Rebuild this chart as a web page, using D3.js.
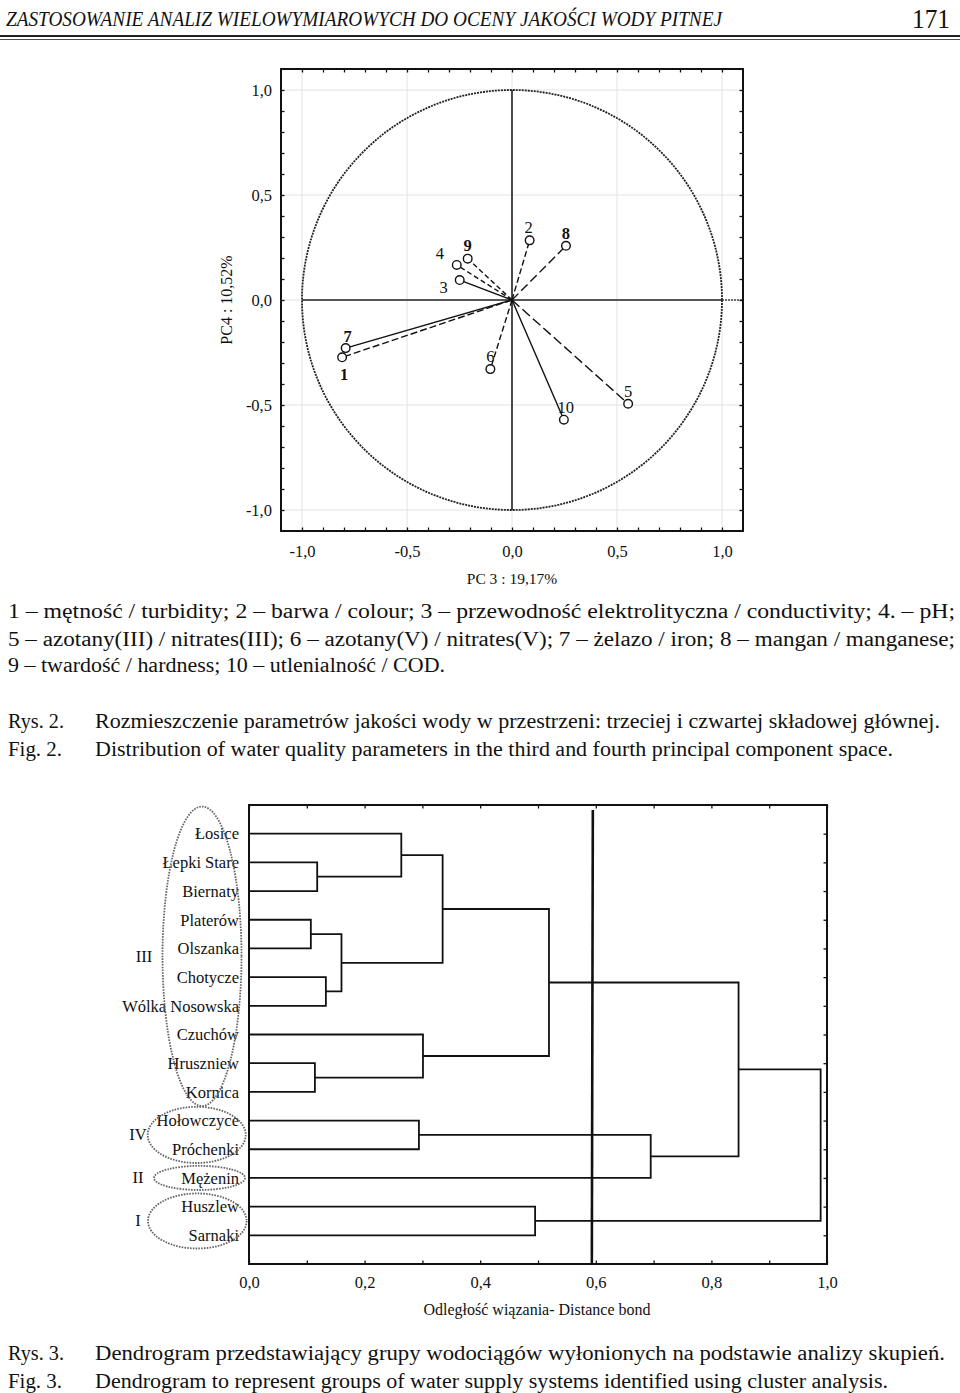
<!DOCTYPE html>
<html><head><meta charset="utf-8">
<script src="https://cdn.jsdelivr.net/npm/d3@7"></script>
<style>
html,body{margin:0;padding:0;background:#fff;}
svg{display:block;}
text{font-family:"Liberation Serif","Times New Roman",serif;fill:#111;}
</style></head>
<body>
<svg id="chart" width="960" height="1393"></svg>
<script>
// ---------------- DATA ----------------
const paramLabels = ["1","2","3","4","5","6","7","8","9","10"];
const pc3Values = [-0.809, 0.084, -0.249, -0.263, 0.553, -0.103, -0.792, 0.257, -0.211, 0.247];
const pc4Values = [-0.273, 0.284, 0.095, 0.167, -0.494, -0.329, -0.229, 0.258, 0.197, -0.570];
const pcaTickLabels = [-1.0, -0.5, 0.0, 0.5, 1.0];

const leaves = ["Łosice","Łepki Stare","Biernaty","Platerów","Olszanka","Chotycze","Wólka Nosowska",
  "Czuchów","Hruszniew","Kornica","Hołowczyce","Próchenki","Mężenin","Huszlew","Sarnaki"];
// linkage: node ids 0..14 are leaves, merge i creates node 15+i
const mergeLeft   = [1, 0, 3, 5, 17, 16, 8, 7, 20, 10, 24, 23, 13, 26];
const mergeRight  = [2, 15, 4, 6, 18, 19, 9, 21, 22, 11, 12, 25, 14, 27];
const mergeHeight = [0.118, 0.2635, 0.107, 0.133, 0.160, 0.335, 0.114, 0.301, 0.519, 0.294, 0.695, 0.847, 0.495, 0.989];
const cutDistance = 0.594;
const dendroTickLabels = [0.0, 0.2, 0.4, 0.6, 0.8, 1.0];
const groupNames = ["III","IV","II","I"];
const groupFirstLeaf = [0, 10, 12, 13];
const groupLastLeaf  = [9, 11, 12, 14];

// ---------------- STYLE ----------------
const lineDash = {"1":"7,3","2":"6,3","3":null,"4":"5,3","5":"10,4","6":"6,3","7":null,"8":"9,4","9":"5,3","10":null};
const labelOffset = {"1":[2,17],"2":[-1,-13],"3":[-16,7],"4":[-17,-11],"5":[0,-12],"6":[0,-13],"7":[2,-12],"8":[0,-12],"9":[0,-13],"10":[2,-12]};
const boldLabels = new Set(["1","7","8","9"]);
// ellipse shape per group: [cx, rx, extra ry in leaf steps, cy shift]
const groupShape = [[202, 39.5, 0.72, -6.5], [196.7, 49, 0.48, 0], [199.5, 45.5, 0.42, 0], [197.3, 49.3, 0.46, 0]];
const fmt = d => (Math.abs(d) < 1e-9 ? 0 : d).toFixed(1).replace(".", ",");

const svg = d3.select("#chart");

// ---------------- HEADER ----------------
svg.append("text").attr("x", 6).attr("y", 26).attr("font-size", 20).attr("font-style","italic")
  .attr("textLength", 716).attr("lengthAdjust","spacingAndGlyphs")
  .text("ZASTOSOWANIE ANALIZ WIELOWYMIAROWYCH DO OCENY JAKOŚCI WODY PITNEJ");
svg.append("text").attr("x", 950).attr("y", 28).attr("font-size", 27).attr("text-anchor","end")
  .attr("textLength", 38).attr("lengthAdjust","spacingAndGlyphs").text("171");
svg.append("line").attr("x1",0).attr("x2",960).attr("y1",36).attr("y2",36).attr("stroke","#222").attr("stroke-width",2);
svg.append("line").attr("x1",0).attr("x2",960).attr("y1",39.5).attr("y2",39.5).attr("stroke","#222").attr("stroke-width",0.8);

// ---------------- PCA PLOT ----------------
const pL = 281, pR = 743, pT = 69, pB = 531;
const px = d3.scaleLinear().domain([-1.1, 1.1]).range([pL, pR]);
const py = d3.scaleLinear().domain([-1.1, 1.1]).range([pB, pT]);
const minor = d3.range(-10, 11).map(i => i / 10);
const g1 = svg.append("g");

// grid
g1.append("g").selectAll("line").data(pcaTickLabels).join("line")
  .attr("x1", d => px(d)).attr("x2", d => px(d)).attr("y1", pT).attr("y2", pB)
  .attr("stroke", "#e2e2e2").attr("stroke-width", 1);
g1.append("g").selectAll("line").data(pcaTickLabels).join("line")
  .attr("y1", d => py(d)).attr("y2", d => py(d)).attr("x1", pL).attr("x2", pR)
  .attr("stroke", "#e2e2e2").attr("stroke-width", 1);

// unit circle
g1.append("ellipse").attr("cx", px(0)).attr("cy", py(0))
  .attr("rx", px(1) - px(0)).attr("ry", py(0) - py(1))
  .attr("fill", "none").attr("stroke", "#222").attr("stroke-width", 1.8).attr("stroke-dasharray", "2,1");

// axes through origin
g1.append("line").attr("x1", px(-1)).attr("x2", px(1)).attr("y1", py(0)).attr("y2", py(0)).attr("stroke", "#222").attr("stroke-width", 1.6);
g1.append("line").attr("x1", px(1)).attr("x2", pR).attr("y1", py(0)).attr("y2", py(0)).attr("stroke", "#444").attr("stroke-width", 1.4).attr("stroke-dasharray","2,1");
g1.append("line").attr("x1", px(0)).attr("x2", px(0)).attr("y1", py(1)).attr("y2", py(-1)).attr("stroke", "#222").attr("stroke-width", 1.6);

// ticks (inward) on four sides via d3 axes
const tk = 3.5;
g1.append("g").attr("transform", `translate(0,${pB})`).call(d3.axisBottom(px).tickValues(minor).tickSize(-tk).tickFormat(""));
g1.append("g").attr("transform", `translate(0,${pT})`).call(d3.axisTop(px).tickValues(minor).tickSize(-tk).tickFormat(""));
g1.append("g").attr("transform", `translate(${pL},0)`).call(d3.axisLeft(py).tickValues(minor).tickSize(-tk).tickFormat(""));
g1.append("g").attr("transform", `translate(${pR},0)`).call(d3.axisRight(py).tickValues(minor).tickSize(-tk).tickFormat(""));
g1.selectAll(".domain").remove();
g1.selectAll(".tick line").attr("stroke", "#111").attr("stroke-width", 1.3);

// tick labels
const xl = g1.append("g").attr("transform", `translate(0,${pB})`).call(d3.axisBottom(px).tickValues(pcaTickLabels).tickSize(0).tickPadding(14).tickFormat(fmt));
const yl = g1.append("g").attr("transform", `translate(${pL},0)`).call(d3.axisLeft(py).tickValues(pcaTickLabels).tickSize(0).tickPadding(9).tickFormat(fmt));
[xl, yl].forEach(a => { a.select(".domain").remove(); a.selectAll("text").attr("font-size", 16.5).attr("font-family", "Liberation Serif").attr("fill", "#111"); });

// frame
g1.append("rect").attr("x", pL).attr("y", pT).attr("width", pR - pL).attr("height", pB - pT)
  .attr("fill", "none").attr("stroke", "#111").attr("stroke-width", 2);

// axis titles
g1.append("text").attr("x", 512).attr("y", 584).attr("text-anchor", "middle").attr("font-size", 15.5).text("PC 3 : 19,17%");
g1.append("text").attr("transform", `translate(232,${py(0)}) rotate(-90)`).attr("text-anchor", "middle").attr("font-size", 16).text("PC4 : 10,52%");

// vectors
const pts = paramLabels.map((l, i) => ({ l, x: pc3Values[i], y: pc4Values[i] }));
g1.append("g").selectAll("line").data(pts).join("line")
  .attr("x1", px(0)).attr("y1", py(0)).attr("x2", d => px(d.x)).attr("y2", d => py(d.y))
  .attr("stroke", "#111").attr("stroke-width", 1.4)
  .attr("stroke-dasharray", d => lineDash[d.l]);
g1.append("g").selectAll("circle").data(pts).join("circle")
  .attr("cx", d => px(d.x)).attr("cy", d => py(d.y)).attr("r", 4.3)
  .attr("fill", "#fff").attr("stroke", "#111").attr("stroke-width", 1.4);
g1.append("g").selectAll("text").data(pts).join("text")
  .attr("x", d => px(d.x) + labelOffset[d.l][0]).attr("y", d => py(d.y) + labelOffset[d.l][1] + 5.5)
  .attr("text-anchor", "middle").attr("font-size", 16.5)
  .attr("font-weight", d => boldLabels.has(d.l) ? "bold" : "normal").text(d => d.l);

// ---------------- LEGEND & CAPTIONS ----------------
function textLine(x, y, str, w, size) {
  const t = svg.append("text").attr("x", x).attr("y", y).attr("font-size", size || 20).text(str);
  if (w) t.attr("textLength", w).attr("lengthAdjust", "spacingAndGlyphs");
  return t;
}
textLine(8, 618, "1 – mętność / turbidity; 2 – barwa / colour; 3 – przewodność elektrolityczna / conductivity; 4. – pH;", 947);
textLine(8, 646, "5 – azotany(III) / nitrates(III); 6 – azotany(V) / nitrates(V); 7 – żelazo / iron; 8 – mangan / manganese;", 947);
textLine(8, 672, "9 – twardość / hardness; 10 – utlenialność / COD.", 437);
textLine(8, 728, "Rys. 2.", 56);
textLine(95, 728, "Rozmieszczenie parametrów jakości wody w przestrzeni: trzeciej i czwartej składowej głównej.", 845);
textLine(8, 756, "Fig. 2.", 54);
textLine(95, 756, "Distribution of water quality parameters in the third and fourth principal component space.", 798);
textLine(8, 1360, "Rys. 3.", 56);
textLine(95, 1360, "Dendrogram przedstawiający grupy wodociągów wyłonionych na podstawie analizy skupień.", 850);
textLine(8, 1388, "Fig. 3.", 54);
textLine(95, 1388, "Dendrogram to represent groups of water supply systems identified using cluster analysis.", 793);

// ---------------- DENDROGRAM ----------------
const dL = 249, dR = 827, dT = 805, dB = 1264;
const dx = d3.scaleLinear().domain([0, 1]).range([dL, dR]);
const dy = d3.scalePoint().domain(leaves).range([dT, dB]).padding(1);
const g2 = svg.append("g");

// node positions
const nodes = leaves.map(n => ({ x: 0, y: dy(n) }));
mergeHeight.forEach((h, i) => {
  const a = nodes[mergeLeft[i]], b = nodes[mergeRight[i]];
  nodes.push({ x: h, y: (a.y + b.y) / 2, a, b });
});
const links = nodes.filter(n => n.a);
g2.append("g").selectAll("path").data(links).join("path")
  .attr("d", n => `M${dx(n.a.x)},${n.a.y}H${dx(n.x)}V${n.b.y}H${dx(n.b.x)}`)
  .attr("fill", "none").attr("stroke", "#111").attr("stroke-width", 1.8);

// ticks
const dMinor = d3.range(0, 11).map(i => i / 10);
g2.append("g").attr("transform", `translate(0,${dB})`).call(d3.axisBottom(dx).tickValues(dMinor).tickSize(-3.5).tickFormat(""));
g2.append("g").attr("transform", `translate(0,${dT})`).call(d3.axisTop(dx).tickValues(dMinor).tickSize(-3.5).tickFormat(""));
g2.append("g").attr("transform", `translate(${dR},0)`).call(d3.axisRight(dy).tickSize(-3.5).tickFormat(""));
g2.selectAll(".domain").remove();
g2.selectAll(".tick line").attr("stroke", "#111").attr("stroke-width", 1.3);

const dxl = g2.append("g").attr("transform", `translate(0,${dB})`).call(d3.axisBottom(dx).tickValues(dendroTickLabels).tickSize(0).tickPadding(12).tickFormat(fmt));
dxl.select(".domain").remove();
dxl.selectAll("text").attr("font-size", 16.5).attr("font-family", "Liberation Serif").attr("fill", "#111");

// leaf labels
const dyl = g2.append("g").attr("transform", `translate(${dL - 10},0)`).call(d3.axisLeft(dy).tickSize(0).tickPadding(0));
dyl.select(".domain").remove();
dyl.selectAll("text").attr("font-size", 16.5).attr("font-family", "Liberation Serif").attr("fill", "#111");

// cut line
g2.append("line").attr("x1", dx(cutDistance) + 0.5).attr("x2", dx(cutDistance) - 0.5).attr("y1", dT + 5).attr("y2", dB)
  .attr("stroke", "#111").attr("stroke-width", 2.6);

// frame
g2.append("rect").attr("x", dL).attr("y", dT).attr("width", dR - dL).attr("height", dB - dT)
  .attr("fill", "none").attr("stroke", "#111").attr("stroke-width", 2);

g2.append("text").attr("x", 537).attr("y", 1315).attr("text-anchor", "middle").attr("font-size", 16)
  .text("Odległość wiązania- Distance bond");

// group ellipses
const step = dy.step();
const groupEll = groupNames.map((name, i) => {
  const y0 = dy(leaves[groupFirstLeaf[i]]), y1 = dy(leaves[groupLastLeaf[i]]);
  const s = groupShape[i];
  return { name, cx: s[0], rx: s[1], cy: (y0 + y1) / 2 + s[3], ry: (y1 - y0) / 2 + step * s[2] };
});
g2.append("g").selectAll("ellipse").data(groupEll).join("ellipse")
  .attr("cx", d => d.cx).attr("cy", d => d.cy).attr("rx", d => d.rx).attr("ry", d => d.ry)
  .attr("fill", "none").attr("stroke", "#666").attr("stroke-width", 1.8).attr("stroke-dasharray", "1.6,1.2");
g2.append("g").selectAll("text").data(groupEll).join("text")
  .attr("x", (d, i) => i === 0 ? 144 : 138).attr("y", d => d.cy + 5.5)
  .attr("text-anchor", "middle").attr("font-size", 16.5).text(d => d.name);
</script>
</body></html>
